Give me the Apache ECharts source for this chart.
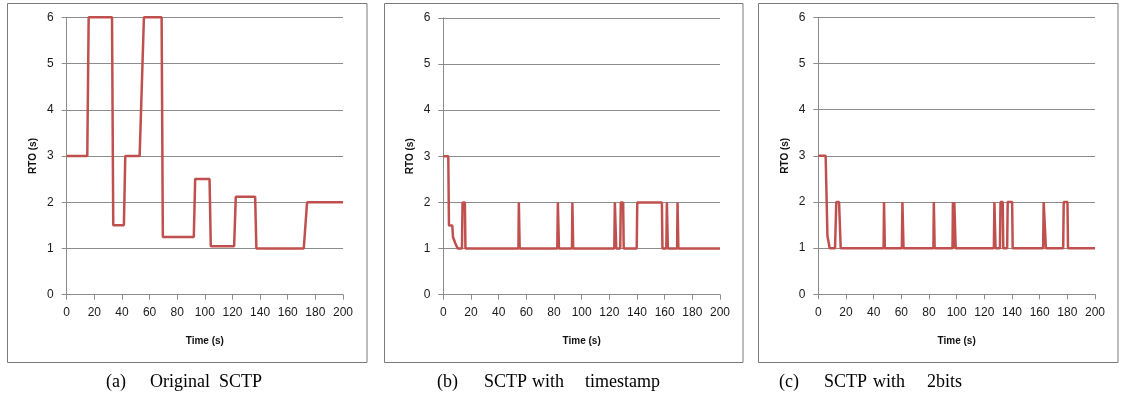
<!DOCTYPE html>
<html>
<head>
<meta charset="utf-8">
<script src="https://cdn.jsdelivr.net/npm/echarts@6/dist/echarts.min.js"></script>
<style>html,body{margin:0;padding:0;background:#fff;}#c{width:1121px;height:401px;}</style>
</head>
<body>
<div id="c"></div>
<script>
// ---- data (time in s, RTO in s) ----
const timeA = [0, 14.9, 15.9, 32.8, 33.7, 41.4, 42.4, 52.8, 55.9, 68.7, 69.6, 92, 93, 103.4, 104.3, 121.2, 122.4, 136.4, 137.3, 171.6, 173, 174, 200];
const rtoA  = [3, 3, 6, 6, 1.5, 1.5, 3, 3, 6, 6, 1.25, 1.25, 2.5, 2.5, 1.05, 1.05, 2.12, 2.12, 1.0, 1.0, 0.97, 2.0, 2.0];

const timeB = [0, 3.6, 4.1, 6.5, 7.0, 8.2, 8.6, 9.6, 10.4,
  13.5, 13.9, 15.6, 16.0,
  54.3, 54.6, 54.9, 55.2,
  82.4, 82.8, 83.2, 83.6,
  93.0, 93.3, 93.6, 93.9,
  123.6, 124.0, 124.6, 125.0,
  127.9, 128.3, 130.0, 130.4,
  139.8, 140.2, 158.0, 158.4,
  161.2, 161.6, 161.9, 162.3,
  169.0, 169.3, 169.6, 169.9,
  200];
const rtoB  = [3, 3, 1.5, 1.5, 1.25, 1.25, 1.12, 1.12, 1,
  1, 2, 2, 1,
  1, 2, 2, 1,
  1, 2, 2, 1,
  1, 2, 2, 1,
  1, 2, 2, 1,
  1, 2, 2, 1,
  1, 2, 2, 1,
  1, 2, 2, 1,
  1, 2, 2, 1,
  1];

const timeC = [0, 5.3, 6.6, 7.8, 8.2,
  12.1, 13.0, 15.0, 16.2,
  47.2, 47.5, 47.8, 48.1,
  60.4, 60.8, 61.2, 61.6,
  83.2, 83.5, 83.8, 84.1,
  97.0, 97.3, 97.6, 97.9, 98.3, 98.9, 99.3,
  126.9, 127.3, 127.7, 128.1,
  131.3, 131.7, 133.3, 133.7,
  136.5, 136.9, 140.1, 140.5,
  162.5, 162.9, 164.1, 164.5,
  177.0, 177.4, 180.1, 180.5,
  200];
const rtoC  = [3, 3, 1.27, 1.27, 1,
  1, 2, 2, 1,
  1, 2, 2, 1,
  1, 2, 2, 1,
  1, 2, 2, 1,
  1, 2, 2, 1, 2, 2, 1,
  1, 2, 2, 1,
  1, 2, 2, 1,
  1, 2, 2, 1,
  1, 2, 2, 1,
  1, 2, 2, 1,
  1];

const xTitle = 'Time (s)';
const yTitle = 'RTO (s)';
const captions = [
  ['(a)', 'Original', 'SCTP'],
  ['(b)', 'SCTP', 'with', 'timestamp'],
  ['(c)', 'SCTP', 'with', '2bits']
];

// ---- layout ----
const grids = [
  {left: 66.7, top: 17.3, width: 276.3, height: 277.4},
  {left: 443.3, top: 17.8, width: 276.7, height: 276.9},
  {left: 818.3, top: 17.3, width: 276.7, height: 277.0}
];
const frames = [
  {x: 7.5, y: 3.5, width: 359.5, height: 359},
  {x: 384.5, y: 3.5, width: 358.5, height: 359},
  {x: 758.5, y: 3.5, width: 359.5, height: 359}
];
const captionX = [
  [106, 150, 219],
  [437, 484, 532, 585],
  [779, 824, 873, 927]
];

const series = [[timeA, rtoA], [timeB, rtoB], [timeC, rtoC]];
const axisColor = '#8c8c8c';
const font = '"Liberation Sans", Arial, sans-serif';

const option = {
  animation: false,
  backgroundColor: '#fff',
  grid: grids.map(g => Object.assign({containLabel: false}, g)),
  xAxis: grids.map((g, i) => ({
    type: 'value', gridIndex: i, min: 0, max: 200, interval: 20,
    name: xTitle, nameLocation: 'middle', nameGap: 42,
    nameTextStyle: {fontFamily: font, fontSize: 10, fontWeight: 'bold', color: '#111'},
    axisLine: {show: true, lineStyle: {color: axisColor, width: 1}},
    axisTick: {show: true, length: 5, lineStyle: {color: axisColor}},
    axisLabel: {fontFamily: font, fontSize: 12, color: '#1a1a1a', margin: 12},
    splitLine: {show: false}
  })),
  yAxis: grids.map((g, i) => ({
    type: 'value', gridIndex: i, min: 0, max: 6, interval: 1,
    name: yTitle, nameLocation: 'middle', nameGap: 28, nameRotate: 90,
    nameTextStyle: {fontFamily: font, fontSize: 10, fontWeight: 'bold', color: '#111'},
    axisLine: {show: true, lineStyle: {color: axisColor, width: 1}},
    axisTick: {show: true, length: 5, lineStyle: {color: axisColor}},
    axisLabel: {fontFamily: font, fontSize: 12, color: '#1a1a1a', margin: 13},
    splitLine: {show: true, lineStyle: {color: axisColor, width: 1}}
  })),
  series: series.map((s, i) => ({
    type: 'line', xAxisIndex: i, yAxisIndex: i,
    data: s[0].map((t, k) => [t, s[1][k]]),
    showSymbol: false, symbol: 'none',
    lineStyle: {color: '#C0504D', width: 2.5},
    itemStyle: {color: '#C0504D'}
  })),
  graphic: [
    ...frames.map(f => ({
      type: 'rect', shape: f, silent: true, z: -1,
      style: {fill: 'none', stroke: '#7a7a7a', lineWidth: 1}
    })),
    ...captions.flatMap((words, i) => words.map((w, k) => ({
      type: 'text', x: captionX[i][k], y: 382,
      style: {text: w, fontFamily: '"Liberation Serif", "Times New Roman", serif', fontSize: 18, fill: '#000', verticalAlign: 'middle', align: 'left'}
    })))
  ]
};

const chart = echarts.init(document.getElementById('c'), null, {renderer: 'canvas'});
chart.setOption(option);
</script>
</body>
</html>
